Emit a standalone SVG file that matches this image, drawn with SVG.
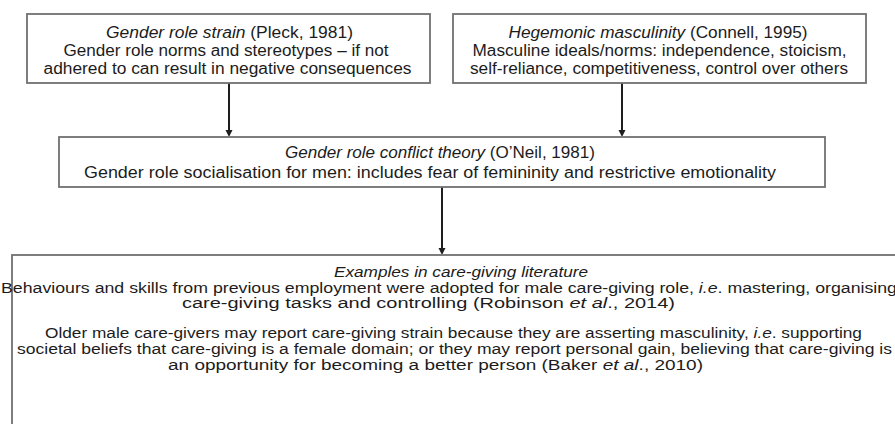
<svg xmlns="http://www.w3.org/2000/svg" width="895" height="424" viewBox="0 0 895 424">
  <style>
    .box { fill: #ffffff; stroke: #707070; stroke-width: 1.8; }
    .t { font-family: "Liberation Sans", Arial, sans-serif; font-size: 16px; fill: #1c1c1c; text-anchor: middle; }
    .s { font-size: 14px; }
    .i { font-style: italic; }
    .link { stroke: #1e1e1e; stroke-width: 2; fill: none; marker-end: url(#head); }
  </style>
  <defs>
    <marker id="head" markerWidth="8" markerHeight="8" refX="4" refY="4" orient="auto" markerUnits="userSpaceOnUse" viewBox="0 0 8 8">
      <path d="M0,0.5 L7,4 L0,7.5 Z" fill="#1e1e1e"/>
    </marker>
  </defs>
  <rect width="895" height="424" fill="#ffffff"/>

  <!-- flow arrows between the boxes -->
  <g id="connectors">
    <line class="link" x1="229" y1="83" x2="229" y2="134"/>
    <line class="link" x1="622" y1="83" x2="622" y2="134"/>
    <line class="link" x1="442" y1="187" x2="442" y2="252"/>
  </g>

  <g id="gender-role-strain">
    <rect class="box" x="27" y="14" width="403" height="69"/>
    <text class="t" x="229.5" y="38" textLength="247" lengthAdjust="spacingAndGlyphs"><tspan class="i">Gender role strain</tspan> (Pleck, 1981)</text>
    <text class="t" x="226" y="56" textLength="325" lengthAdjust="spacingAndGlyphs">Gender role norms and stereotypes – if not</text>
    <text class="t" x="227.5" y="74" textLength="368" lengthAdjust="spacingAndGlyphs">adhered to can result in negative consequences</text>
  </g>

  <g id="hegemonic-masculinity">
    <rect class="box" x="453" y="14" width="413" height="69"/>
    <text class="t" x="658" y="38" textLength="299" lengthAdjust="spacingAndGlyphs"><tspan class="i">Hegemonic masculinity</tspan> (Connell, 1995)</text>
    <text class="t" x="659.5" y="56" textLength="374" lengthAdjust="spacingAndGlyphs">Masculine ideals/norms: independence, stoicism,</text>
    <text class="t" x="659" y="74" textLength="378" lengthAdjust="spacingAndGlyphs">self-reliance, competitiveness, control over others</text>
  </g>

  <g id="gender-role-conflict">
    <rect class="box" x="59" y="137" width="766" height="50"/>
    <text class="t" x="440" y="158" textLength="310" lengthAdjust="spacingAndGlyphs"><tspan class="i">Gender role conflict theory</tspan> (O’Neil, 1981)</text>
    <text class="t" x="430" y="178" textLength="692" lengthAdjust="spacingAndGlyphs">Gender role socialisation for men: includes fear of femininity and restrictive emotionality</text>
  </g>

  <g id="care-giving-examples">
    <rect class="box" x="12" y="255" width="900" height="190"/>
    <text class="t s i" x="461" y="277" textLength="254" lengthAdjust="spacingAndGlyphs">Examples in care-giving literature</text>
    <text class="t s" x="449" y="293" textLength="896" lengthAdjust="spacingAndGlyphs">Behaviours and skills from previous employment were adopted for male care-giving role, <tspan class="i">i.e</tspan>. mastering, organising</text>
    <text class="t s" x="428.5" y="308" textLength="493" lengthAdjust="spacingAndGlyphs">care-giving tasks and controlling (Robinson <tspan class="i">et al</tspan>., 2014)</text>
    <text class="t s" x="453.5" y="338" textLength="817" lengthAdjust="spacingAndGlyphs">Older male care-givers may report care-giving strain because they are asserting masculinity, <tspan class="i">i.e</tspan>. supporting</text>
    <text class="t s" x="454.5" y="354" textLength="875" lengthAdjust="spacingAndGlyphs">societal beliefs that care-giving is a female domain; or they may report personal gain, believing that care-giving is</text>
    <text class="t s" x="435.5" y="370" textLength="535" lengthAdjust="spacingAndGlyphs">an opportunity for becoming a better person (Baker <tspan class="i">et al</tspan>., 2010)</text>
  </g>
</svg>
